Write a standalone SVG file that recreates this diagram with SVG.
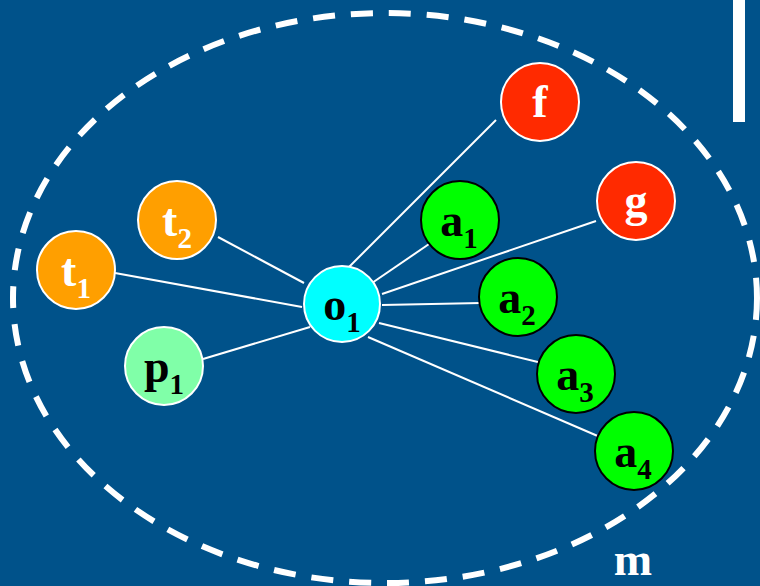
<svg xmlns="http://www.w3.org/2000/svg" width="760" height="586" viewBox="0 0 760 586">
<style>
.n{stroke-width:2}
.w{stroke:#ffffff}
.b{stroke:#000000}
.c{stroke:#ffffff;stroke-width:2;fill:none}
text{font-family:"Liberation Serif","Times New Roman",serif;font-weight:bold;font-size:46px;text-anchor:middle}
.s{font-size:29px}
.tw{fill:#ffffff}
.tb{fill:#000000}
</style>
<rect width="760" height="586" fill="#00528A"/>
<ellipse cx="385" cy="298" rx="372" ry="285" fill="none" stroke="#ffffff" stroke-width="6" stroke-dasharray="22 16"/>
<rect x="733" y="0" width="12" height="122" fill="#ffffff"/>
<g id="connectors">
<line class="c" x1="349" y1="267" x2="496" y2="120"/>
<line class="c" x1="372" y1="283" x2="432" y2="242"/>
<line class="c" x1="382" y1="294" x2="596" y2="221"/>
<line class="c" x1="382" y1="305" x2="481" y2="303"/>
<line class="c" x1="379" y1="323" x2="542" y2="363"/>
<line class="c" x1="368" y1="337" x2="600" y2="437"/>
<line class="c" x1="218" y1="237" x2="304" y2="283"/>
<line class="c" x1="115" y1="273" x2="302" y2="307"/>
<line class="c" x1="203" y1="359" x2="310" y2="327"/>
</g>
<g id="f"><circle class="n w" cx="540" cy="102" r="39" fill="#FF2A00"/><text class="tw" x="540" y="117">f</text></g>
<g id="g"><circle class="n w" cx="636" cy="201" r="39" fill="#FF2A00"/><text class="tw" x="636" y="216">g</text></g>
<g id="a1"><circle class="n b" cx="460" cy="220" r="39" fill="#00FF00"/><text class="tb" x="459" y="236">a<tspan class="s" dy="12">1</tspan></text></g>
<g id="a2"><circle class="n b" cx="518" cy="297" r="39" fill="#00FF00"/><text class="tb" x="517" y="313">a<tspan class="s" dy="12">2</tspan></text></g>
<g id="a3"><circle class="n b" cx="576" cy="374" r="39" fill="#00FF00"/><text class="tb" x="575" y="390">a<tspan class="s" dy="12">3</tspan></text></g>
<g id="a4"><circle class="n b" cx="634" cy="451" r="39" fill="#00FF00"/><text class="tb" x="633" y="467">a<tspan class="s" dy="12">4</tspan></text></g>
<g id="o1"><circle class="n w" cx="342" cy="304" r="38" fill="#00FFFF"/><text class="tb" x="342" y="320">o<tspan class="s" dy="12">1</tspan></text></g>
<g id="t2"><circle class="n w" cx="177" cy="220" r="39" fill="#FF9F00"/><text class="tw" x="177" y="236">t<tspan class="s" dy="12">2</tspan></text></g>
<g id="t1"><circle class="n w" cx="76" cy="270" r="39" fill="#FF9F00"/><text class="tw" x="76" y="286">t<tspan class="s" dy="12">1</tspan></text></g>
<g id="p1"><circle class="n w" cx="164" cy="366" r="39" fill="#80FFA8"/><text class="tb" x="164" y="382">p<tspan class="s" dy="12">1</tspan></text></g>
<text class="tw" x="633" y="575">m</text>
</svg>
